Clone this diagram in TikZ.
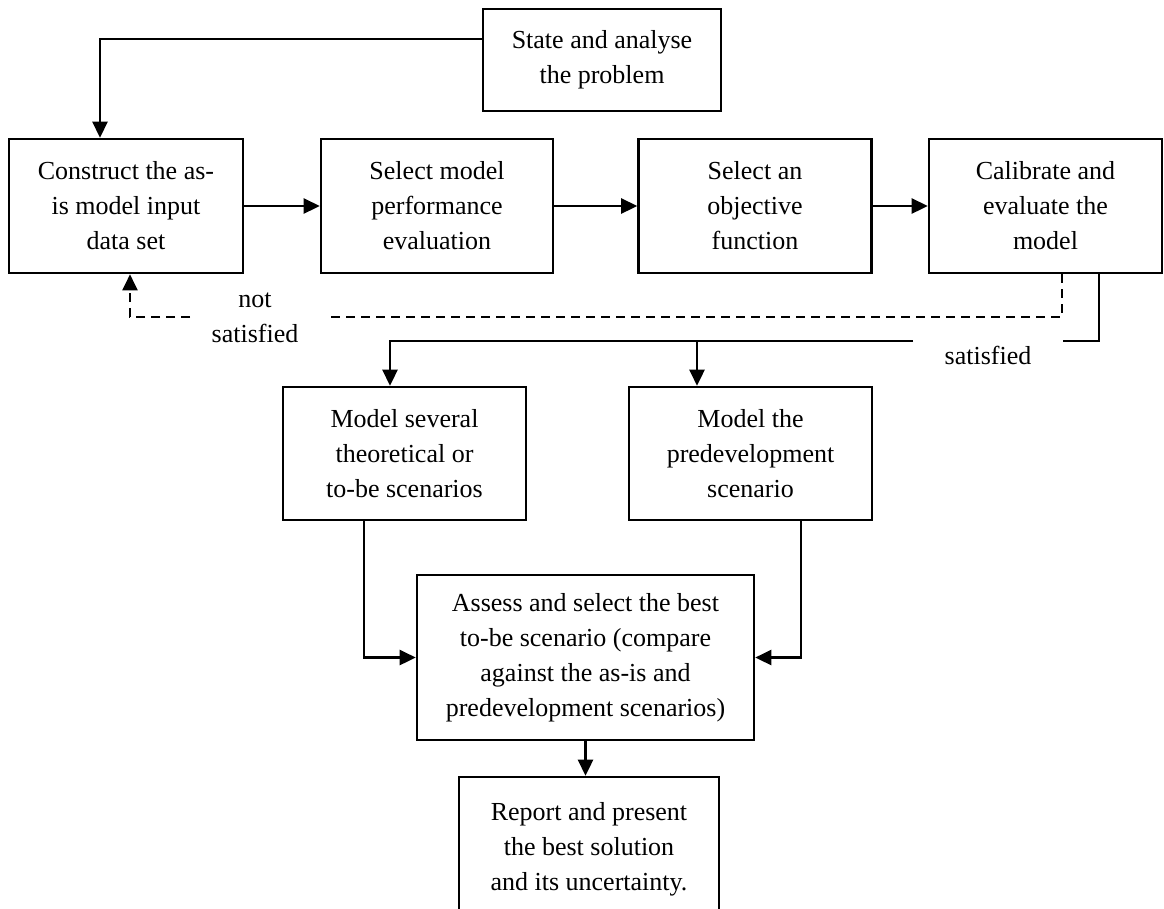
\documentclass[tikz,border=0pt]{standalone}
\usepackage{fontspec}
\setmainfont{Liberation Serif}
\usetikzlibrary{arrows.meta,positioning}
\begin{document}
\begin{tikzpicture}[x=1pt,y=-1pt,
  box/.style={draw,line width=2.6pt,rectangle,align=center,inner sep=0pt,
    font=\fontsize{26}{35}\selectfont},
  conn/.style={line width=2.6pt},
  tip/.style={-{Triangle[length=16pt,width=15pt]}},
  arr/.style={conn,tip},
  dsh/.style={line width=2pt,dash pattern=on 9pt off 6pt},
  lbl/.style={align=center,font=\fontsize{26}{35}\selectfont,inner sep=0pt}]
\useasboundingbox (0,0) rectangle (1164,908);
\begin{scope}
\clip (0,0) rectangle (1164,908);
\node[box,minimum width=238pt,minimum height=102pt] (state) at (602,60) {State and analyse\\the problem};
\node[box,minimum width=234pt,minimum height=134pt] (construct) at (126,206) {Construct the as-\\is model input\\data set};
\node[box,minimum width=232pt,minimum height=134pt] (selmodel) at (437,206) {Select model\\performance\\evaluation};
\node[box,minimum width=233pt,minimum height=134pt] (selobj) at (755,206) {Select an\\objective\\function};
\node[box,minimum width=233pt,minimum height=134pt] (calib) at (1045.5,206) {Calibrate and\\evaluate the\\model};
\node[box,minimum width=243pt,minimum height=133pt] (several) at (404.5,453.5) {Model several\\theoretical or\\to-be scenarios};
\node[box,minimum width=243pt,minimum height=133pt] (predev) at (750.5,453.5) {Model the\\predevelopment\\scenario};
\node[box,minimum width=337pt,minimum height=165pt] (assess) at (585.5,657.5) {Assess and select the best\\to-be scenario (compare\\against the as-is and\\predevelopment scenarios)};
\node[box,minimum width=260pt,minimum height=144pt] (report) at (589,849) {Report and present\\the best solution\\and its uncertainty.};
\end{scope}

\draw[arr] ([yshift=21pt]state.west) -| ([xshift=-26pt]construct.north);
\draw[arr] (construct.east) -- (selmodel.west);
\draw[arr] (selmodel.east) -- (selobj.west);
\draw[arr] (selobj.east) -- (calib.west);

\coordinate (d1) at (327,317);
\coordinate (d2) at (190,317);
\draw[dsh] ([xshift=16.5pt]calib.south) |- (d1);
\draw[dsh,tip] (d2) -| ([xshift=4pt]construct.south);
\node[lbl] (notsat) at (255,318) {not\\satisfied};

\coordinate (s1) at (1063,341);
\coordinate (s2) at (913,341);
\coordinate (s3) at (697,341);
\draw[conn] ([xshift=53.5pt]calib.south) |- (s1);
\draw[arr] (s2) -| ([xshift=-14.5pt]several.north);
\draw[arr] (s3) -- (s3 |- predev.north);
\node[lbl] (sat) at (988,355) {satisfied};

\draw[arr] ([xshift=-40.5pt]several.south) |- (assess.west);
\draw[arr] ([xshift=50.5pt]predev.south) |- (assess.east);
\draw[arr] (assess.south) -- (assess.south |- report.north);
\end{tikzpicture}
\end{document}
